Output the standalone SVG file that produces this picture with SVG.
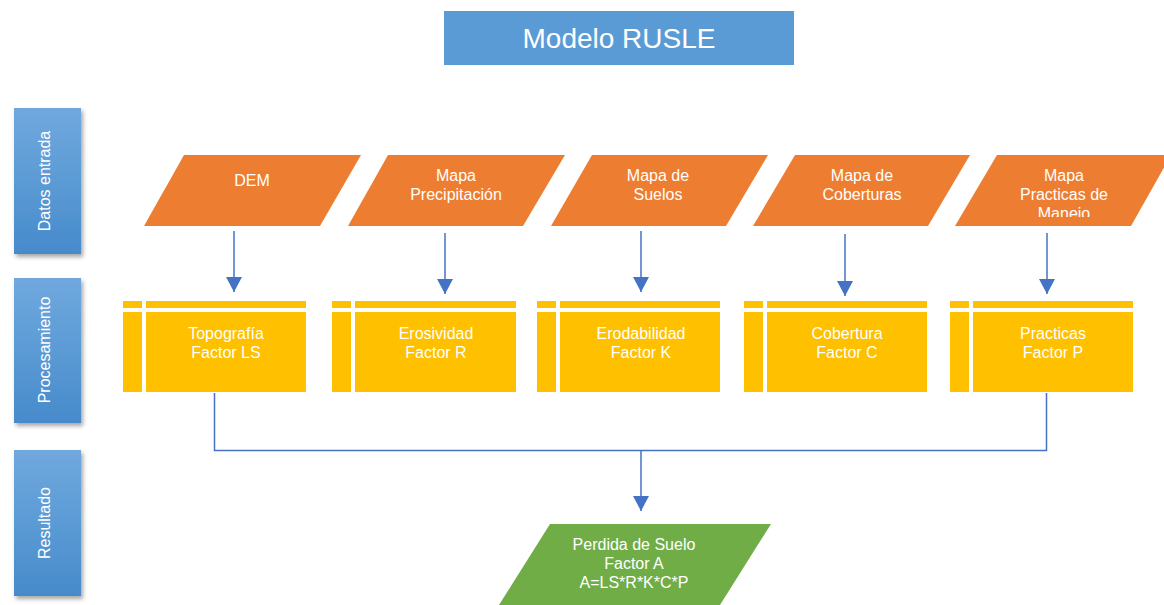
<svg xmlns="http://www.w3.org/2000/svg" width="1164" height="605" viewBox="0 0 1164 605">
<defs>
<linearGradient id="sideGrad" x1="0" y1="0" x2="0" y2="1">
<stop offset="0" stop-color="#70A8DE"/>
<stop offset="0.5" stop-color="#5B9BD5"/>
<stop offset="1" stop-color="#478ACB"/>
</linearGradient>
<filter id="shadow" x="-20%" y="-10%" width="150%" height="130%">
<feDropShadow dx="2" dy="3" stdDeviation="2" flood-color="#000" flood-opacity="0.35"/>
</filter>
<marker id="arrow" markerUnits="userSpaceOnUse" markerWidth="16" markerHeight="16" refX="15" refY="8" orient="auto">
<path d="M0,0 L15,8 L0,16 z" fill="#4472C4"/>
</marker>
<clipPath id="clipP"><rect x="950" y="150" width="214" height="67"/></clipPath>
</defs>
<style>
text{font-family:"Liberation Sans",Arial,sans-serif;fill:#fff;font-size:16px;text-anchor:middle}
.title{font-size:28px}
.side{fill:url(#sideGrad);filter:url(#shadow)}
.inp{fill:#ED7D31}
.proc{fill:#FFC000}
.gap{fill:#fff}
.res{fill:#70AD47}
.conn{stroke:#4472C4;stroke-width:1.5;fill:none}
</style>
<rect width="1164" height="605" fill="#fff"/>

<g id="title">
<rect x="444" y="11" width="350" height="54" fill="#5B9BD5"/>
<text class="title" x="619" y="48">Modelo RUSLE</text>
</g>

<g id="lane-datos">
<rect class="side" x="14" y="108" width="67" height="146"/>
<text x="50" y="181" transform="rotate(-90 50 181)">Datos entrada</text>
</g>
<g id="lane-procesamiento">
<rect class="side" x="14" y="278" width="67" height="145"/>
<text x="50" y="350" transform="rotate(-90 50 350)">Procesamiento</text>
</g>
<g id="lane-resultado">
<rect class="side" x="14" y="450" width="67" height="146"/>
<text x="50" y="523" transform="rotate(-90 50 523)">Resultado</text>
</g>

<g id="in-dem">
<polygon class="inp" points="184,155 361,155 320,226 144,226"/>
<text x="252" y="186">DEM</text>
</g>
<g id="in-precip">
<polygon class="inp" points="388,155 565,155 523,226 348,226"/>
<text x="456" y="181">Mapa</text>
<text x="456" y="200">Precipitación</text>
</g>
<g id="in-suelos">
<polygon class="inp" points="592,155 768,155 726,226 551,226"/>
<text x="658" y="181">Mapa de</text>
<text x="658" y="200">Suelos</text>
</g>
<g id="in-coberturas">
<polygon class="inp" points="795,155 970,155 928,226 753,226"/>
<text x="862" y="181">Mapa de</text>
<text x="862" y="200">Coberturas</text>
</g>
<g id="in-practicas">
<polygon class="inp" points="997,155 1171,155 1131,226 955,226"/>
<g clip-path="url(#clipP)">
<text x="1064" y="181">Mapa</text>
<text x="1064" y="200">Practicas de</text>
<text x="1064" y="219">Manejo</text>
</g>
</g>

<g id="proc-ls">
<rect class="proc" x="123" y="301" width="183" height="91"/>
<rect class="gap" x="142" y="301" width="4" height="91"/>
<rect class="gap" x="123" y="308" width="183" height="4"/>
<text x="226" y="339">Topografía</text>
<text x="226" y="358">Factor LS</text>
</g>
<g id="proc-r">
<rect class="proc" x="332" y="301" width="184" height="91"/>
<rect class="gap" x="351" y="301" width="4" height="91"/>
<rect class="gap" x="332" y="308" width="184" height="4"/>
<text x="436" y="339">Erosividad</text>
<text x="436" y="358">Factor R</text>
</g>
<g id="proc-k">
<rect class="proc" x="537" y="301" width="183" height="91"/>
<rect class="gap" x="556" y="301" width="4" height="91"/>
<rect class="gap" x="537" y="308" width="183" height="4"/>
<text x="641" y="339">Erodabilidad</text>
<text x="641" y="358">Factor K</text>
</g>
<g id="proc-c">
<rect class="proc" x="744" y="301" width="183" height="91"/>
<rect class="gap" x="763" y="301" width="4" height="91"/>
<rect class="gap" x="744" y="308" width="183" height="4"/>
<text x="847" y="339">Cobertura</text>
<text x="847" y="358">Factor C</text>
</g>
<g id="proc-p">
<rect class="proc" x="950" y="301" width="183" height="91"/>
<rect class="gap" x="969" y="301" width="4" height="91"/>
<rect class="gap" x="950" y="308" width="183" height="4"/>
<text x="1053" y="339">Practicas</text>
<text x="1053" y="358">Factor P</text>
</g>

<g id="result">
<polygon class="res" points="550,524 771,524 720,605 499,605"/>
<text x="634" y="550">Perdida de Suelo</text>
<text x="634" y="569">Factor A</text>
<text x="634" y="588">A=LS*R*K*C*P</text>
</g>

<g id="connectors">
<line class="conn" x1="234" y1="231" x2="234" y2="292" marker-end="url(#arrow)"/>
<line class="conn" x1="445" y1="233" x2="445" y2="294" marker-end="url(#arrow)"/>
<line class="conn" x1="641" y1="231" x2="641" y2="292" marker-end="url(#arrow)"/>
<line class="conn" x1="845" y1="234" x2="845" y2="296" marker-end="url(#arrow)"/>
<line class="conn" x1="1047" y1="233" x2="1047" y2="294" marker-end="url(#arrow)"/>
<polyline class="conn" points="214.5,393 214.5,450.5 1046.5,450.5 1046.5,393"/>
<line class="conn" x1="641" y1="450" x2="641" y2="511" marker-end="url(#arrow)"/>
</g>
</svg>
